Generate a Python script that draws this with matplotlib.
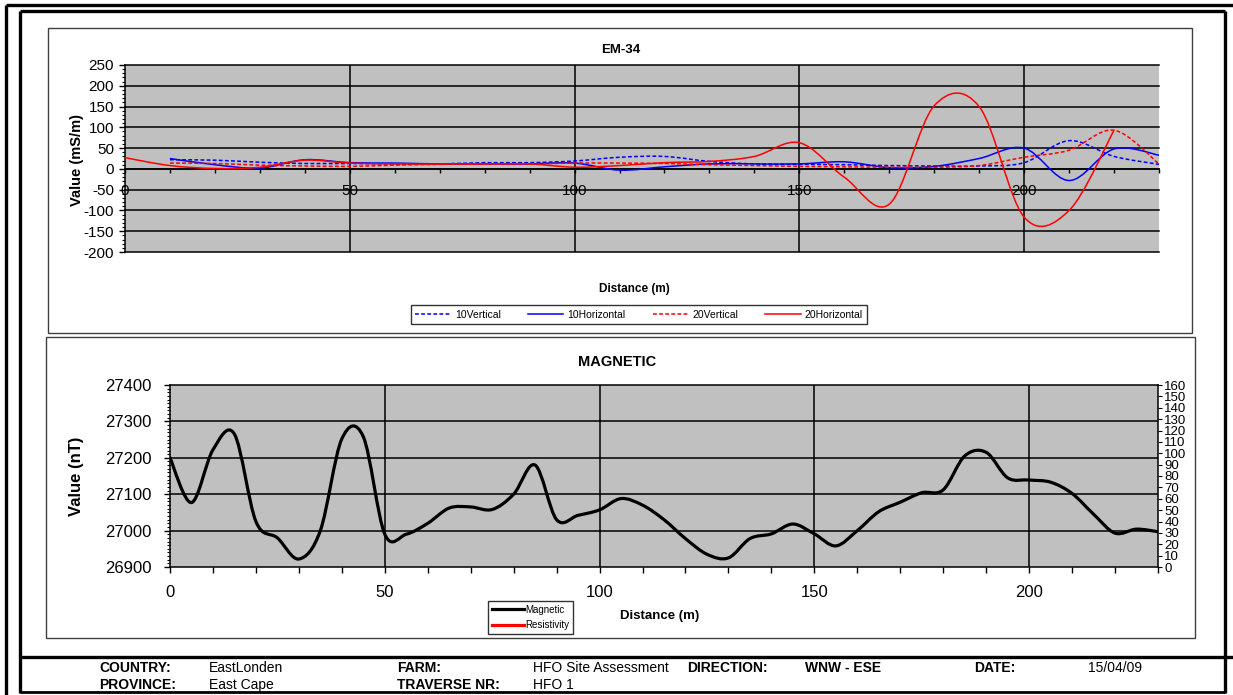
import numpy as np
import matplotlib
matplotlib.use("Agg")
import matplotlib.pyplot as plt
from matplotlib.path import Path
from matplotlib.patches import PathPatch, Rectangle
from matplotlib.lines import Line2D
from matplotlib.ticker import MultipleLocator

plt.rcParams['font.family'] = ['Liberation Sans', 'DejaVu Sans']

# ---------------- data ----------------
em_dist = [0, 10, 20, 30, 40, 50, 60, 70, 80, 90, 100, 110, 120,
           130, 140, 150, 160, 170, 180, 190, 200, 210, 220, 230]
em_10_vertical = [None, 22, 21, 16, 13, 13, 12, 12, 15, 15, 19, 28, 30,
                  18, 12, 11, 10, 8, 7, 7, 15, 68, 30, 11]
em_10_horizontal = [None, 25, 10, 2, 22, 15, 14, 12, 12, 12, 14, -3, 5,
                    12, 12, 12, 17, 3, 6, 25, 50, -28, 48, 33]
em_20_vertical = [None, 14, 13, 9, 7, 6, 9, 11, 12, 12, 14, 14, 13,
                  10, 8, 6, 5, 4, 4, 8, 28, 45, 93, 12]
em_20_horizontal = [27, 8, 1, 4, 21, 14, 12, 12, 12, 12, 4, 8, 15,
                    18, 30, 63, -20, -85, 152, 150, -116, -100, 93, None]

mag_dist = [0, 5, 10, 15, 20, 25, 30, 35, 40, 45, 50, 55, 60, 65, 70, 75,
            80, 85, 90, 95, 100, 105, 110, 115, 120, 125, 130, 135, 140,
            145, 150, 155, 160, 165, 170, 175, 180, 185, 190, 195, 200,
            205, 210, 215, 220, 225, 230]
mag_nt = [27200, 27077, 27222, 27265, 27025, 26980, 26922, 27000, 27252,
          27258, 26990, 26990, 27020, 27062, 27065, 27058, 27100, 27180,
          27030, 27042, 27057, 27088, 27070, 27030, 26978, 26935, 26925,
          26978, 26991, 27018, 26991, 26958, 27000, 27052, 27078, 27104,
          27112, 27205, 27215, 27145, 27139, 27133, 27102, 27045, 26993,
          27004, 26997]
resistivity = []

em_xticks = [0, 50, 100, 150, 200]
em_yticks = [-200, -150, -100, -50, 0, 50, 100, 150, 200, 250]
mag_xticks = [0, 50, 100, 150, 200]
mag_yticks = [26900, 27000, 27100, 27200, 27300, 27400]
res_ticks = list(range(0, 161, 10))

footer_rows = [
    [("COUNTRY:", True, 99), ("EastLonden", False, 209), ("FARM:", True, 397),
     ("HFO Site Assessment", False, 533), ("DIRECTION:", True, 687),
     ("WNW - ESE", True, 805), ("DATE:", True, 974), ("15/04/09", False, 1088)],
    [("PROVINCE:", True, 99), ("East Cape", False, 209),
     ("TRAVERSE NR:", True, 397), ("HFO 1", False, 533)],
]

# ---------------- helpers ----------------
W, H = 1233, 695
fig = plt.figure(figsize=(W / 100, H / 100), dpi=100)
fig.patch.set_facecolor('white')


def fx(px):
    return px / W


def fy(py):
    return 1 - py / H


def fig_line(xs, ys, lw, color='black'):
    fig.add_artist(Line2D([fx(v) for v in xs], [fy(v) for v in ys],
                          transform=fig.transFigure, color=color, lw=lw,
                          solid_capstyle='butt'))


def fig_box(x0, y0, x1, y1, lw=1.0, color='#404040'):
    fig.add_artist(Rectangle((fx(x0), fy(y1)), fx(x1) - fx(x0), fy(y0) - fy(y1),
                             transform=fig.transFigure, fill=False,
                             ec=color, lw=lw))


def smooth_path(xs, ys):
    """Cubic Bezier path through the points (smoothed line)."""
    pts = np.column_stack([xs, ys]).astype(float)
    n = len(pts)
    verts = [pts[0]]
    codes = [Path.MOVETO]
    for i in range(n - 1):
        p0 = pts[i - 1] if i > 0 else pts[i]
        p1 = pts[i]
        p2 = pts[i + 1]
        p3 = pts[i + 2] if i + 2 < n else pts[i + 1]
        c1 = p1 + (p2 - p0) / 6.0
        c2 = p2 - (p3 - p1) / 6.0
        verts += [c1, c2, p2]
        codes += [Path.CURVE4] * 3
    return Path(verts, codes)


def smooth_line(ax, xs, ys, **kw):
    pairs = [(x, y) for x, y in zip(xs, ys) if y is not None]
    px = [p[0] for p in pairs]
    py = [p[1] for p in pairs]
    patch = PathPatch(smooth_path(px, py), fill=False, **kw)
    ax.add_patch(patch)
    return patch


GRID_KW = dict(color='black', lw=1.1)

# ---------------- frames ----------------
fig_line([6, 1233], [5, 5], 2.4)
fig_line([6, 6], [5, 695], 2.4)
fig_line([20, 1225], [11, 11], 2.4)
fig_line([20, 20], [11, 693], 2.4)
fig_line([1225, 1225], [11, 693], 2.4)
fig_line([20, 1225], [692, 692], 2.0)
fig_line([20, 1233], [657, 657], 2.4)
fig_box(48, 28, 1192, 333, lw=1.0)
fig_box(46, 337, 1195, 638, lw=1.0)

# ---------------- EM-34 ----------------
ax1 = fig.add_axes([fx(125), fy(252), fx(1159) - fx(125), fy(65) - fy(252)])
ax1.set_facecolor('#C0C0C0')
ax1.set_xlim(0, 230)
ax1.set_ylim(-200, 250)
for y in em_yticks:
    ax1.axhline(y, zorder=1, clip_on=False, **GRID_KW)
for x in em_xticks[1:]:
    ax1.axvline(x, zorder=1, **GRID_KW)

smooth_line(ax1, em_dist, em_10_vertical, ec='#0000FF', lw=1.1,
            ls=(0, (2.5, 1.5)), zorder=3)
smooth_line(ax1, em_dist, em_10_horizontal, ec='#0000FF', lw=1.1, zorder=3)
smooth_line(ax1, em_dist, em_20_vertical, ec='#FF0000', lw=1.1,
            ls=(0, (2.5, 1.5)), zorder=3)
smooth_line(ax1, em_dist, em_20_horizontal, ec='#FF0000', lw=1.1, zorder=3)

ax1.spines['bottom'].set_position(('data', 0))
for s in ax1.spines.values():
    s.set_linewidth(1.1)
    s.set_color('black')
ax1.spines['top'].set_visible(False)
ax1.spines['right'].set_visible(False)
ax1.set_xticks(em_xticks)
ax1.set_xticklabels([str(v) for v in em_xticks])
ax1.xaxis.set_minor_locator(MultipleLocator(10))
ax1.set_yticks(em_yticks)
ax1.set_yticklabels([str(v) for v in em_yticks])
ax1.yaxis.set_minor_locator(MultipleLocator(10))
ax1.tick_params(axis='x', which='major', direction='out', length=3, width=1,
                labelsize=11, pad=8)
ax1.tick_params(axis='x', which='minor', direction='out', length=3, width=1)
ax1.tick_params(axis='y', which='major', direction='out', length=4, width=1,
                labelsize=11, pad=4)
ax1.tick_params(axis='y', which='minor', direction='out', length=2.5, width=0.8)

fig.text(fx(621), fy(50), "EM-34", ha='center', va='center',
         fontsize=9.5, fontweight='bold')
fig.text(fx(77), fy(160), "Value (mS/m)", ha='center', va='center',
         rotation=90, fontsize=10.5, fontweight='bold')
fig.text(fx(634), fy(289), "Distance (m)", ha='center', va='center',
         fontsize=8.5, fontweight='bold')

em_handles = [
    Line2D([], [], color='#0000FF', lw=1.1, ls=(0, (2.5, 1.5))),
    Line2D([], [], color='#0000FF', lw=1.1),
    Line2D([], [], color='#FF0000', lw=1.1, ls=(0, (2.5, 1.5))),
    Line2D([], [], color='#FF0000', lw=1.1),
]
em_labels = ["10Vertical", "10Horizontal", "20Vertical", "20Horizontal"]
leg1 = fig.legend(em_handles, em_labels, loc='center',
                  bbox_to_anchor=(fx(639), fy(314.5)),
                  bbox_transform=fig.transFigure, ncol=4, fontsize=7.5,
                  handlelength=3.4, handletextpad=0.4, columnspacing=2.6,
                  borderpad=0.45, frameon=True, fancybox=False)
leg1.get_frame().set_edgecolor('black')
leg1.get_frame().set_linewidth(1.0)

# ---------------- MAGNETIC ----------------
ax2 = fig.add_axes([fx(170), fy(567), fx(1158) - fx(170), fy(385) - fy(567)])
ax2.set_facecolor('#C0C0C0')
ax2.set_xlim(0, 230)
ax2.set_ylim(26900, 27400)
for y in mag_yticks[1:-1]:
    ax2.axhline(y, zorder=1, **GRID_KW)
for x in mag_xticks[1:]:
    ax2.axvline(x, zorder=1, **GRID_KW)

smooth_line(ax2, mag_dist, mag_nt, ec='black', lw=2.3, zorder=3,
            capstyle='round', joinstyle='round')

for s in ax2.spines.values():
    s.set_linewidth(1.1)
    s.set_color('black')
ax2.set_xticks(mag_xticks)
ax2.set_xticklabels([str(v) for v in mag_xticks])
ax2.xaxis.set_minor_locator(MultipleLocator(10))
ax2.set_yticks(mag_yticks)
ax2.set_yticklabels([str(v) for v in mag_yticks])
ax2.yaxis.set_minor_locator(MultipleLocator(10))
ax2.tick_params(axis='x', which='major', direction='out', length=4, width=1,
                labelsize=12, pad=9)
ax2.tick_params(axis='x', which='minor', direction='out', length=4, width=1)
ax2.tick_params(axis='y', which='major', direction='out', length=4, width=1,
                labelsize=12, pad=9)
ax2.tick_params(axis='y', which='minor', direction='out', length=2.5, width=0.8)

ax3 = ax2.twinx()
ax3.set_ylim(0, 160)
ax3.plot([], resistivity, color='#FF0000', lw=2.3)
ax3.set_yticks(res_ticks)
ax3.set_yticklabels([str(v) for v in res_ticks])
ax3.tick_params(axis='y', direction='out', length=3, width=0.8,
                labelsize=9.5, pad=1.5)
for s in ax3.spines.values():
    s.set_visible(False)

fig.text(fx(617), fy(362), "MAGNETIC", ha='center', va='center',
         fontsize=10.5, fontweight='bold')
fig.text(fx(77), fy(476), "Value (nT)", ha='center', va='center',
         rotation=90, fontsize=12, fontweight='bold')
fig.text(fx(660), fy(616), "Distance (m)", ha='center', va='center',
         fontsize=9.5, fontweight='bold')

mag_handles = [Line2D([], [], color='black', lw=2.3),
               Line2D([], [], color='#FF0000', lw=2.3)]
leg2 = fig.legend(mag_handles, ["Magnetic", "Resistivity"], loc='center',
                  bbox_to_anchor=(fx(530.5), fy(617.5)),
                  bbox_transform=fig.transFigure, ncol=1, fontsize=7,
                  handlelength=3.3, handletextpad=0.15, labelspacing=0.6,
                  borderpad=0.4, frameon=True, fancybox=False)
leg2.get_frame().set_edgecolor('black')
leg2.get_frame().set_linewidth(1.0)

# ---------------- footer ----------------
for row_y, row in zip([668, 685], footer_rows):
    for text, bold, x in row:
        fig.text(fx(x), fy(row_y), text, ha='left', va='center', fontsize=10,
                 fontweight='bold' if bold else 'normal')

fig.savefig("out.png", dpi=100, facecolor='white')
